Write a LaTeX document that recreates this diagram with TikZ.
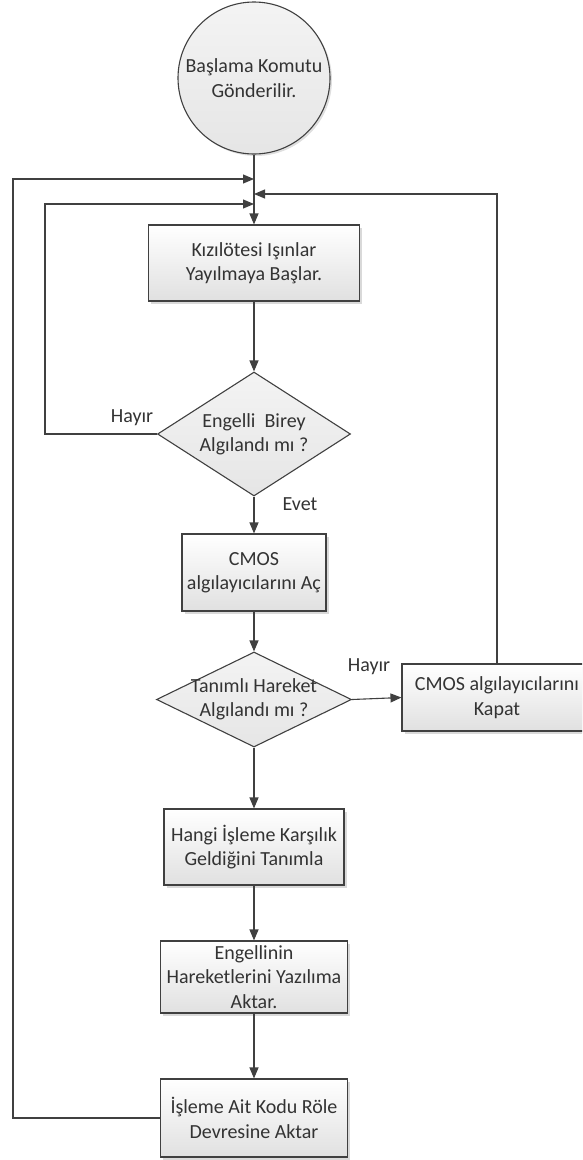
\documentclass[tikz,border=0pt]{standalone}
\usepackage{fontspec}
\setmainfont{Carlito}
\usetikzlibrary{shapes.geometric,arrows.meta,shadows}
\definecolor{ln}{HTML}{404040}
\definecolor{tx}{HTML}{333333}
\newcommand{\dtext}[1]{\smash{\makebox[0pt]{\raisebox{-5.5pt}{\begin{tabular}{@{}c@{}}#1\end{tabular}}}}}
\tikzset{
  base/.style={draw=ln, line width=1.1pt, text=tx, inner sep=0pt,
    font=\fontsize{20}{24.4}\selectfont, align=center},
  stepbox/.style={base, rectangle, top color=white, bottom color=gray!24,
    drop shadow={shadow xshift=2.5pt, shadow yshift=-2.5pt, opacity=0.3, fill=gray}},
  decision/.style={base, diamond, top color=gray!9, bottom color=gray!20},
  startnode/.style={base, circle, top color=gray!9, bottom color=gray!20,
    drop shadow={shadow xshift=2pt, shadow yshift=-2pt, opacity=0.25, fill=gray}},
  lbl/.style={text=tx, font=\fontsize{20}{24.4}\selectfont, inner sep=0pt},
  arr/.style={draw=ln, line width=1.1pt, -{Triangle[length=11pt,width=9pt]}},
  con/.style={draw=ln, line width=1.1pt},
}
\begin{document}
\begin{tikzpicture}[x=1pt,y=1pt]
\useasboundingbox (0,0) rectangle (582,-1160);
\clip (0,0) rectangle (582,-1160);

\node[startnode, minimum size=152pt] (s) at (254,-78) {Başlama Komutu\\Gönderilir.};
\node[stepbox, minimum width=211pt, minimum height=76pt] (b1) at (254,-263) {Kızılötesi Işınlar\\Yayılmaya Başlar.};
\node[decision, minimum width=193pt, minimum height=124pt] (d1) at (254,-434) {\dtext{Engelli\ \ Birey\\Algılandı mı ?}};
\node[stepbox, minimum width=144pt, minimum height=77pt] (b2) at (254,-572.5) {CMOS\\algılayıcılarını Aç};
\node[decision, minimum width=195pt, minimum height=95pt] (d2) at (254,-699.5) {\dtext{Tanımlı Hareket\\Algılandı mı ?}};
\node[stepbox, minimum width=190pt, minimum height=67pt] (b3) at (497,-697.5) {CMOS algılayıcılarını\\Kapat};
\node[stepbox, minimum width=180pt, minimum height=76pt] (b4) at (254,-847) {Hangi İşleme Karşılık\\Geldiğini Tanımla};
\node[stepbox, minimum width=187pt, minimum height=72pt] (b5) at (254,-977) {Engellinin\\Hareketlerini Yazılıma\\Aktar.};
\node[stepbox, minimum width=187pt, minimum height=78pt] (b6) at (254,-1118) {İşleme Ait Kodu Röle\\Devresine Aktar};

\node[lbl] (h1) at (132,-418) {Hayır};
\node[lbl] (ev) at (300,-504) {Evet};
\node[lbl] (h2) at (369,-667) {Hayır};

\coordinate (j1) at (254,-179);
\coordinate (j3) at (254,-194);
\coordinate (j2) at (254,-204);

\draw[arr] (s.south) -- (b1.north);
\draw[arr] (b1.south) -- (d1.north);
\draw[arr] (d1.south) -- (b2.north);
\draw[arr] (b2.south) -- (d2.north);
\draw[arr] (d2.east) -- (b3.west);
\draw[arr] (d2.south) -- (b4.north);
\draw[arr] (b4.south) -- (b5.north);
\draw[arr] (b5.south) -- (b6.north);

\draw[arr] (d1.west) -| (45,-204) -- (j2);
\draw[arr] (b6.west) -| (13,-179) -- (j1);
\draw[arr] (b3.north) |- (j3);
\end{tikzpicture}
\end{document}
